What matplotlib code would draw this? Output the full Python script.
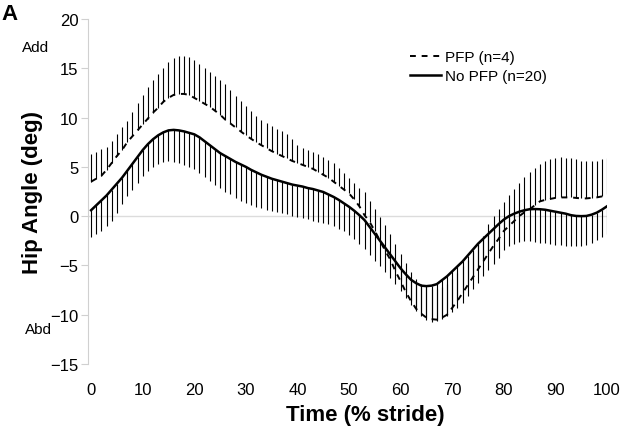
import matplotlib
matplotlib.use("Agg")
import matplotlib.pyplot as plt
import numpy as np

plt.rcParams['font.family'] = ['Liberation Sans', 'DejaVu Sans']

# -------------- data --------------
stride = list(range(0, 101))  # % stride

# PFP (n=4): mean and mean + SD
pfp_mean = [3.5, 3.8, 4.1, 4.7, 5.4, 6.1, 6.7, 7.5, 8.1, 8.7,
            9.3, 9.9, 10.5, 11.0, 11.6, 12.0, 12.3, 12.4, 12.4, 12.3,
            12.0, 11.7, 11.4, 11.1, 10.7, 10.3, 9.8, 9.4, 9.0, 8.6,
            8.2, 7.85, 7.5, 7.2, 6.9, 6.6, 6.35, 6.1, 5.85, 5.6,
            5.4, 5.2, 5.0, 4.8, 4.5, 4.2, 3.9, 3.5, 3.1, 2.7,
            2.3, 1.7, 1.0, 0.1, -0.6, -1.5, -2.5, -3.5, -4.4, -5.6,
            -6.6, -7.7, -8.6, -9.4, -9.9, -10.3, -10.45, -10.5, -10.3, -10.0,
            -9.3, -8.6, -7.8, -7.0, -6.2, -5.4, -4.6, -3.8, -3.0, -2.3,
            -1.5, -1.0, -0.5, 0.0, 0.4, 0.7, 1.1, 1.5, 1.65, 1.75,
            1.85, 1.9, 1.9, 1.9, 1.85, 1.8, 1.8, 1.85, 1.9, 2.0,
            2.2]
pfp_upper = [6.3, 6.5, 6.8, 7.0, 7.6, 8.3, 9.0, 9.7, 10.6, 11.5,
             12.3, 13.1, 13.8, 14.4, 15.0, 15.6, 16.0, 16.2, 16.25, 16.1,
             15.8, 15.4, 15.0, 14.6, 14.2, 13.8, 13.4, 12.8, 12.2, 11.7,
             11.2, 10.7, 10.2, 9.8, 9.45, 9.1, 8.8, 8.6, 8.3, 7.8,
             7.2, 6.9, 6.7, 6.5, 6.3, 6.0, 5.7, 5.4, 4.9, 4.4,
             3.9, 3.4, 2.9, 2.4, 1.5, 0.7, -0.1, -0.9, -1.8, -2.8,
             -3.8, -4.8, -5.7, -6.4, -6.9, -7.2, -7.4, -7.4, -7.2, -6.9,
             -6.4, -5.8, -5.1, -4.4, -3.6, -2.8, -2.0, -0.8, 0.0, 0.7,
             1.4, 2.1, 2.8, 3.4, 4.0, 4.5, 4.9, 5.3, 5.6, 5.8,
             5.9, 5.95, 5.9, 5.85, 5.75, 5.6, 5.55, 5.55, 5.6, 5.75,
             5.9]

# No PFP (n=20): mean and mean - SD
nopfp_mean = [0.6, 1.1, 1.6, 2.1, 2.7, 3.3, 3.9, 4.6, 5.3, 6.0,
              6.7, 7.3, 7.8, 8.2, 8.5, 8.7, 8.75, 8.7, 8.6, 8.45,
              8.3, 8.0, 7.6, 7.2, 6.8, 6.4, 6.1, 5.8, 5.5, 5.25,
              5.0, 4.7, 4.45, 4.2, 4.0, 3.8, 3.65, 3.5, 3.35, 3.2,
              3.1, 3.0, 2.85, 2.75, 2.6, 2.45, 2.2, 1.95, 1.65, 1.3,
              0.95, 0.55, 0.1, -0.4, -1.1, -1.8, -2.5, -3.2, -3.9, -4.6,
              -5.3, -5.9, -6.45, -6.8, -7.05, -7.1, -7.05, -6.9, -6.5, -6.1,
              -5.6, -5.1, -4.6, -4.0, -3.4, -2.8, -2.3, -1.8, -1.3, -0.8,
              -0.35, 0.0, 0.25, 0.45, 0.6, 0.7, 0.72, 0.7, 0.65, 0.55,
              0.45, 0.35, 0.25, 0.1, 0.02, 0.0, 0.02, 0.15, 0.35, 0.65,
              1.0]
nopfp_lower = [-2.1, -1.8, -1.5, -1.0, -0.5, 0.3, 1.2, 2.0, 2.7, 3.4,
               4.1, 4.6, 5.0, 5.3, 5.5, 5.55, 5.5, 5.35, 5.15, 4.95,
               4.8, 4.4, 4.0, 3.6, 3.2, 2.85, 2.5, 2.2, 1.85, 1.55,
               1.35, 1.15, 0.95, 0.8, 0.65, 0.5, 0.4, 0.3, 0.2, 0.05,
               -0.1, -0.2, -0.3, -0.45, -0.6, -0.7, -0.8, -1.05, -1.3, -1.5,
               -1.9, -2.3, -2.8, -3.3, -3.9, -4.5, -5.1, -5.7, -6.3, -6.9,
               -7.6, -8.3, -9.0, -9.6, -10.1, -10.5, -10.7, -10.6, -10.4, -10.1,
               -9.7, -9.3, -8.8, -8.1, -7.4, -6.8, -6.1, -5.5, -4.9, -4.2,
               -3.4, -3.0, -2.8, -2.6, -2.5, -2.55, -2.6, -2.7, -2.75, -2.8,
               -2.9, -2.95, -3.0, -3.0, -3.0, -3.0, -2.9, -2.7, -2.4, -2.1,
               -1.8]

yticks = [-15, -10, -5, 0, 5, 10, 15, 20]
xticks = [0, 10, 20, 30, 40, 50, 60, 70, 80, 90, 100]
# -----------------------------------------------------

fig = plt.figure(figsize=(6.26, 4.35), dpi=100)
ax = fig.add_axes([88/626, 1-365/435, 519/626, 345/435])

# one-sided SD bars
ax.vlines(stride, pfp_mean, pfp_upper, color='black', lw=0.8)
ax.vlines(stride, nopfp_mean, nopfp_lower, color='black', lw=0.8)

ax.plot(stride, pfp_mean, color='black', lw=1.4, dashes=(3, 3), label='PFP (n=4)')
ax.plot(stride, nopfp_mean, color='black', lw=1.8, label='No PFP (n=20)')

ax.axhline(0, color='#dcdcdc', lw=1, zorder=0)

ax.set_xlim(-0.6, 100)
ax.set_ylim(-15, 20)
ax.set_xticks(xticks)
ax.set_yticks(yticks)
for s in ['top', 'right', 'bottom']:
    ax.spines[s].set_visible(False)
ax.spines['left'].set_color('#d0d0d0')
ax.tick_params(axis='y', length=5, color='#d0d0d0', labelsize=12, pad=2)
ax.tick_params(axis='x', length=0, labelsize=12, pad=13)

ax.set_ylabel('Hip Angle (deg)', fontsize=16, fontweight='bold')
ax.yaxis.set_label_coords(-0.086, 0.5)
ax.set_xlabel('Time (% stride)', fontsize=16, fontweight='bold')
ax.xaxis.set_label_coords((365-88)/519, -0.116)

fig.text(10/626, 1-14/435, 'A', fontsize=16, fontweight='bold', va='center', ha='center')
fig.text(36/626, 1-48/435, 'Add', fontsize=11, va='center', ha='center')
fig.text(38/626, 1-330/435, 'Abd', fontsize=11, va='center', ha='center')

ax.legend(loc='upper left', bbox_to_anchor=((404-88)/519, (365-45)/345), frameon=False,
          fontsize=11, handlelength=2.0, handletextpad=0.3, labelspacing=0.35,
          borderaxespad=0)

fig.savefig('out.png', dpi=100)
